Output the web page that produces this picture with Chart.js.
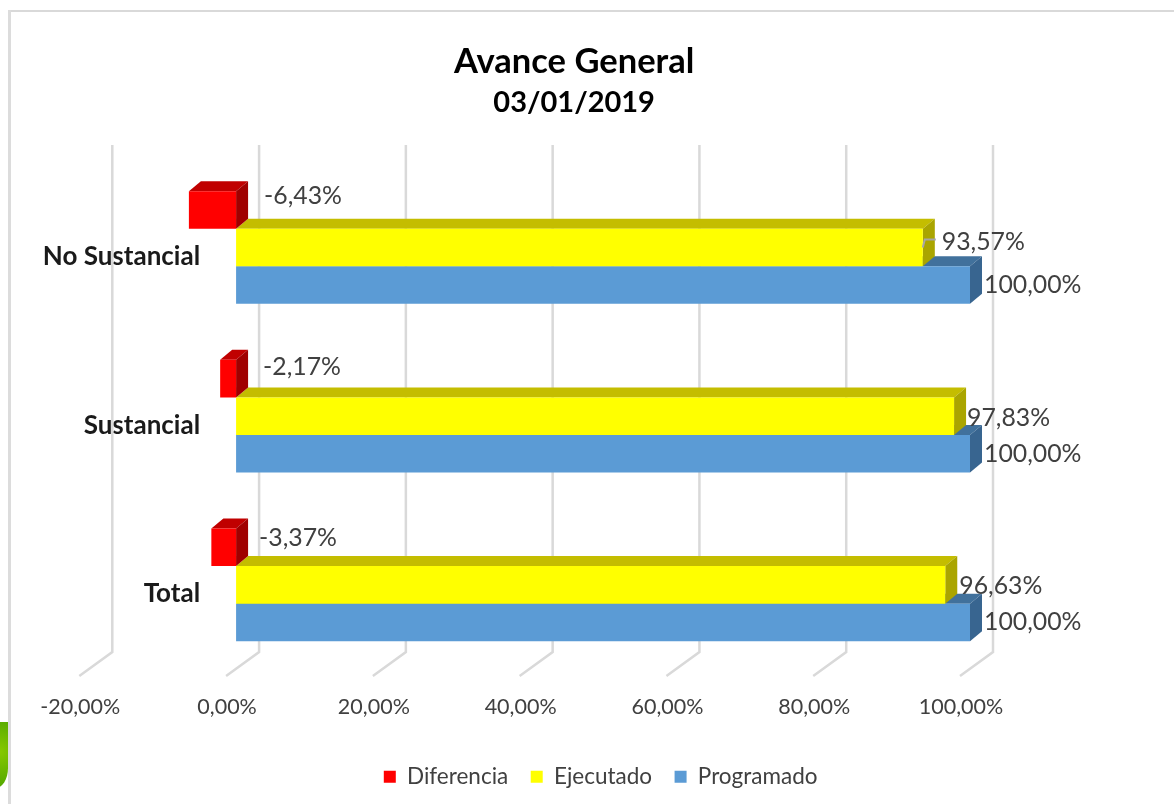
<!DOCTYPE html>
<html lang="es">
<head>
<meta charset="utf-8">
<title>Avance General</title>
<script src="https://cdn.jsdelivr.net/npm/chart.js@4"></script>
<style>
    html, body { margin: 0; padding: 0; background: #fff; overflow: hidden; }
    #wrap { position: relative; width: 1174px; height: 804px; }
    canvas { position: absolute; left: 0; top: 0; }
    /* frame of the pasted chart, only top and left show */
    #frameTop { position: absolute; left: 8px; top: 10px; width: 1166px; height: 2px; background: #d9d9d9; }
    #frameLeft { position: absolute; left: 8px; top: 10px; width: 3px; height: 794px; background: #dcdcdc; }
    /* bit of a green picture poking out behind the chart */
    #blob { position: absolute; left: -34px; top: 722px; width: 42px; height: 66px; overflow: hidden;
            border-radius: 50% 0 30% 50%; background: radial-gradient(circle at 80% 45%, #86c900, #3f9a00); }
</style>
</head>
<body>
<div id="wrap">
    <div id="blob"></div>
    <div id="frameTop"></div>
    <div id="frameLeft"></div>
    <canvas id="chart" width="1174" height="804"></canvas>
</div>
<script>
const categories = ['No Sustancial', 'Sustancial', 'Total'];
const diferencia = [-6.43, -2.17, -3.37];
const ejecutado = [93.57, 97.83, 96.63];
const programado = [100, 100, 100];
const tickValues = [-20, 0, 20, 40, 60, 80, 100];

const textFont = 'Lato, "Open Sans", sans-serif';
const DEPTH_X = 12, DEPTH_Y = 10;      // bar extrusion
const WALL_X = 23, FLOOR_X = -10, WALL_TOP = 145, WALL_BOTTOM = 652, FLOOR_Y = 676;

function fmt(v) {
    return v.toFixed(2).replace('.', ',') + '%';
}

function shade(ctx, pts, color) {
    ctx.fillStyle = color;
    ctx.beginPath();
    pts.forEach((p, i) => i ? ctx.lineTo(p[0], p[1]) : ctx.moveTo(p[0], p[1]));
    ctx.closePath();
    ctx.fill();
}

// gridlines on the back wall and floor, plus the top and side faces of the bars
const fake3d = {
    id: 'fake3d',
    beforeDatasetsDraw(chart) {
        const ctx = chart.ctx;
        const x = chart.scales.x;
        ctx.save();
        ctx.strokeStyle = '#d9d9d9';
        ctx.lineWidth = 2.5;
        tickValues.forEach(v => {
            const px = x.getPixelForValue(v);
            ctx.beginPath();
            ctx.moveTo(px + WALL_X, WALL_TOP);
            ctx.lineTo(px + WALL_X, WALL_BOTTOM);
            ctx.lineTo(px + FLOOR_X, FLOOR_Y);
            ctx.stroke();
        });
        for (let d = chart.data.datasets.length - 1; d >= 0; d--) {
            const ds = chart.data.datasets[d];
            chart.getDatasetMeta(d).data.forEach(bar => {
                const left = Math.min(bar.x, bar.base);
                const right = Math.max(bar.x, bar.base);
                const top = bar.y - bar.height / 2;
                const bottom = bar.y + bar.height / 2;
                shade(ctx, [[left, top], [left + DEPTH_X, top - DEPTH_Y], [right + DEPTH_X, top - DEPTH_Y], [right, top]], ds.topColor);
                shade(ctx, [[right, top], [right + DEPTH_X, top - DEPTH_Y], [right + DEPTH_X, bottom - DEPTH_Y], [right, bottom]], ds.sideColor);
            });
        }
        ctx.restore();
    },
    afterDatasetsDraw(chart) {
        const ctx = chart.ctx;
        ctx.save();
        ctx.font = '24.8px ' + textFont;
        ctx.fillStyle = '#404040';
        ctx.textBaseline = 'middle';
        chart.data.datasets.forEach((ds, d) => {
            chart.getDatasetMeta(d).data.forEach((bar, i) => {
                const ox = ds.labelDx[i];
                const oy = ds.labelDy[i];
                const from = ds.data[i] < 0 ? bar.base : bar.x;
                ctx.fillText(fmt(ds.data[i]), from + ox, bar.y + oy);
            });
        });
        // leader line of the first yellow label
        const b = chart.getDatasetMeta(1).data[0];
        ctx.strokeStyle = '#a6a6a6';
        ctx.lineWidth = 2;
        ctx.beginPath();
        ctx.moveTo(b.x, b.y);
        ctx.lineTo(b.x + 2, b.y - 8);
        ctx.lineTo(b.x + 13, b.y - 8);
        ctx.stroke();
        ctx.restore();
    },
    // the title and legend sit off the plot centre in the original
    afterLayout(chart) {
        chart.boxes.forEach(b => {
            if (b.position === 'top') {
                b.left += 44.5;
                b.right += 44.5;
            } else if (b.position === 'bottom' && b !== chart.scales.x) {
                b.left += 71;
                b.right += 71;
            }
        });
    }
};

new Chart(document.getElementById('chart').getContext('2d'), {
    type: 'bar',
    data: {
        labels: categories,
        datasets: [
            { label: 'Diferencia', data: diferencia, backgroundColor: '#ff0000', topColor: '#c00000', sideColor: '#a00000',
              labelDx: [28, 27, 23], labelDy: [-14, -12, -9] },
            { label: 'Ejecutado', data: ejecutado, backgroundColor: '#ffff00', topColor: '#c4bd00', sideColor: '#aaa500',
              labelDx: [19, 13, 14], labelDy: [-6, 2, 1] },
            { label: 'Programado', data: programado, backgroundColor: '#5b9bd5', topColor: '#41719c', sideColor: '#386590',
              labelDx: [14, 14, 14], labelDy: [0, 0, 0] }
        ]
    },
    options: {
        indexAxis: 'y',
        responsive: false,
        animation: false,
        maintainAspectRatio: false,
        categoryPercentage: 0.668,
        barPercentage: 1,
        layout: { padding: { left: 89.3, right: 204, top: 41, bottom: 6 } },
        scales: {
            x: {
                type: 'linear',
                min: -20,
                max: 100,
                grid: { display: false },
                border: { display: false },
                afterBuildTicks: scale => { scale.ticks = tickValues.map(v => ({ value: v })); },
                afterFit: scale => { scale.height += 6; },
                ticks: {
                    callback: v => fmt(v),
                    color: '#404040',
                    font: { family: textFont, size: 21.5 },
                    labelOffset: -9,
                    padding: 17,
                    maxRotation: 0,
                    autoSkip: false
                }
            },
            y: {
                // axis line stands just left of the zero bars so the labels end at the right spot
                position: { x: -4.9 },
                grid: { display: false },
                border: { display: false },
                ticks: {
                    color: '#1a1a1a',
                    font: { family: textFont, size: 26, weight: 'bold' },
                    labelOffset: 9
                }
            }
        },
        plugins: {
            title: {
                display: true,
                text: 'Avance General',
                color: '#000',
                font: { family: textFont, size: 34.5, weight: 'bold' },
                padding: { top: 0, bottom: 3 }
            },
            subtitle: {
                display: true,
                text: '03/01/2019',
                color: '#000',
                font: { family: textFont, size: 29, weight: 'bold' },
                padding: { top: 0, bottom: 43 }
            },
            legend: {
                position: 'bottom',
                labels: {
                    boxWidth: 12,
                    boxHeight: 12,
                    padding: 22.5,
                    color: '#404040',
                    font: { family: textFont, size: 22.5 }
                }
            },
            tooltip: { enabled: false }
        }
    },
    plugins: [fake3d]
});
</script>
</body>
</html>
